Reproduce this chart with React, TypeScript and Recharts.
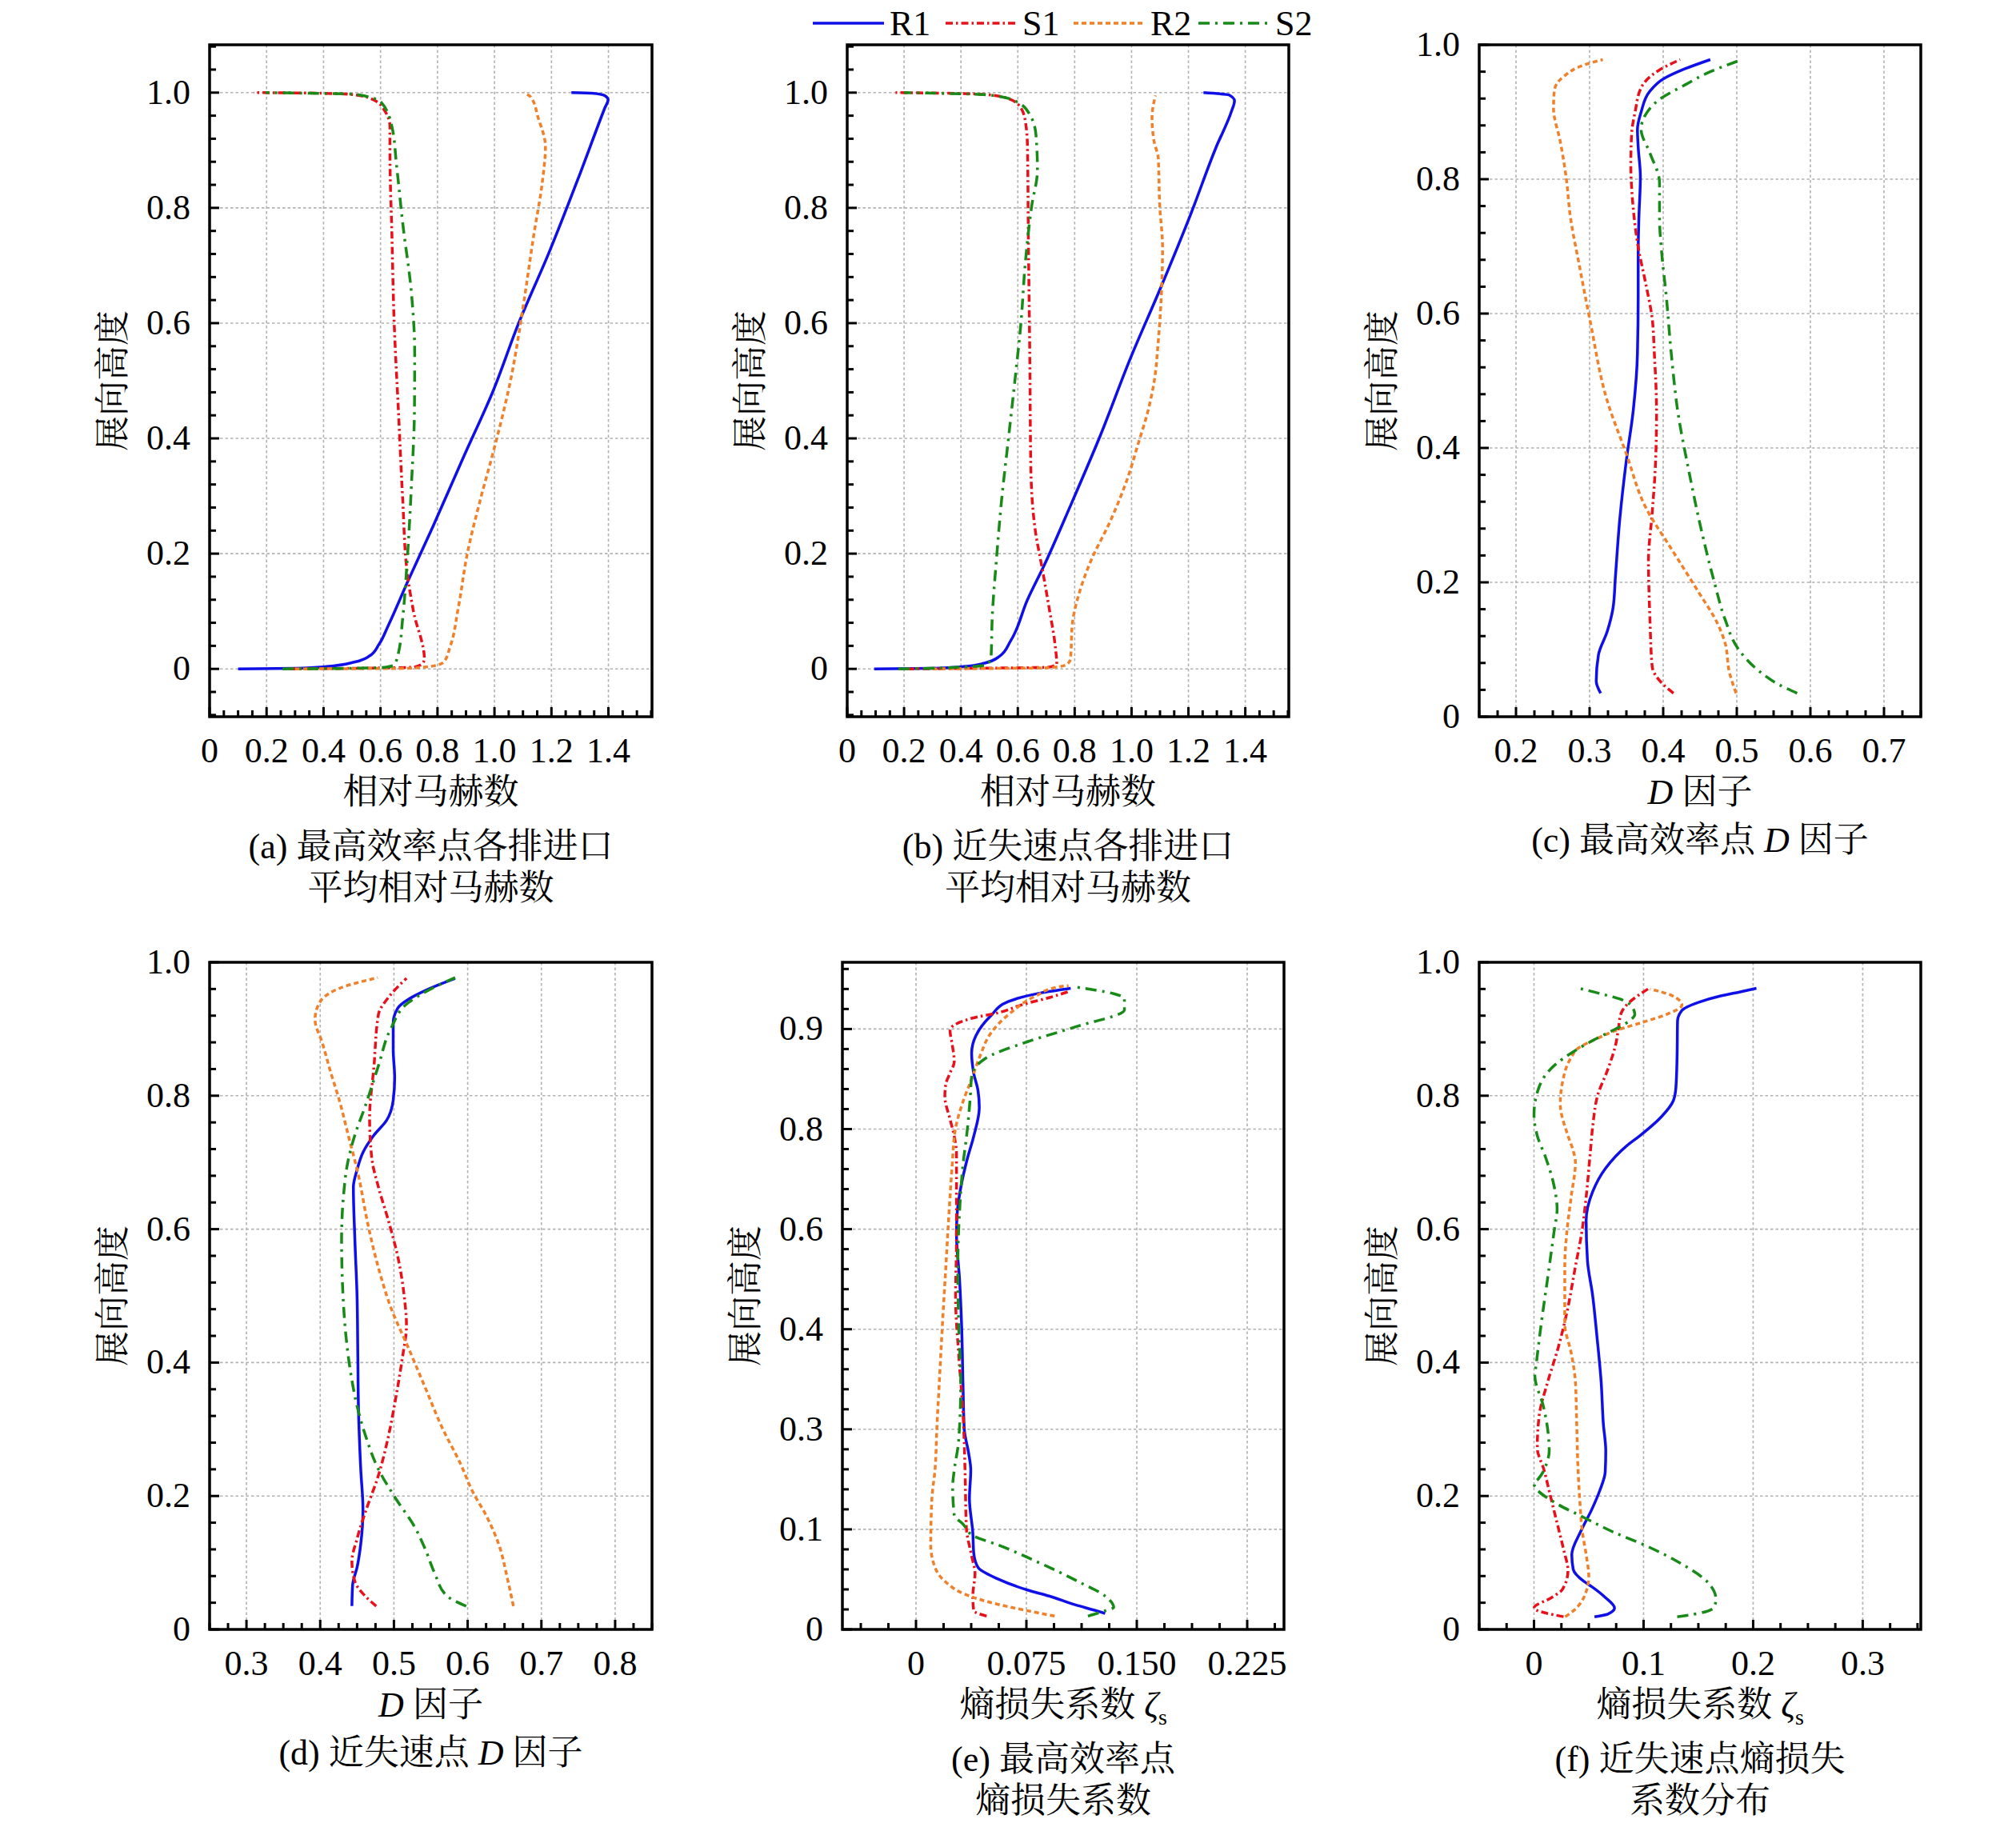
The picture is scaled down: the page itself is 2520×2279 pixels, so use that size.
import React from 'react';
import { LineChart, Line, XAxis, YAxis, CartesianGrid, ReferenceArea } from 'recharts';

const FONT = "'Liberation Serif', 'Times New Roman', 'Noto Serif CJK SC', 'Noto Sans CJK SC', serif";

// [x, y] pairs, y = spanwise height
const aR1 = [[0.10, 0], [0.30, 0.001], [0.41, 0.004], [0.51, 0.012], [0.56, 0.022], [0.595, 0.043], [0.626, 0.074], [0.694, 0.15], [0.784, 0.247], [0.889, 0.365], [0.995, 0.482], [1.085, 0.6], [1.191, 0.722], [1.297, 0.855], [1.387, 0.973], [1.399, 0.988], [1.387, 0.995], [1.342, 0.999], [1.27, 1.0]];
const aS1 = [[0.28, 0], [0.5, 0.001], [0.716, 0.003], [0.746, 0.009], [0.754, 0.017], [0.716, 0.099], [0.693, 0.17], [0.678, 0.293], [0.663, 0.446], [0.648, 0.6], [0.64, 0.753], [0.633, 0.896], [0.633, 0.941], [0.61, 0.972], [0.573, 0.988], [0.513, 0.996], [0.392, 0.999], [0.155, 1.0]];
const aR2 = [[0.30, 0], [0.694, 0.001], [0.784, 0.005], [0.822, 0.012], [0.844, 0.038], [0.874, 0.109], [0.905, 0.201], [0.95, 0.293], [0.995, 0.375], [1.055, 0.497], [1.101, 0.63], [1.138, 0.753], [1.168, 0.845], [1.179, 0.906], [1.153, 0.957], [1.128, 0.992], [1.104, 1.0]];
const aS2 = [[0.256, 0], [0.5, 0.001], [0.62, 0.003], [0.648, 0.007], [0.663, 0.028], [0.678, 0.089], [0.694, 0.191], [0.709, 0.324], [0.719, 0.446], [0.72, 0.548], [0.709, 0.65], [0.678, 0.773], [0.656, 0.875], [0.64, 0.941], [0.603, 0.983], [0.513, 0.997], [0.196, 1.0]];

const bR1 = [[0.095, 0], [0.30, 0.001], [0.408, 0.004], [0.483, 0.01], [0.536, 0.022], [0.574, 0.048], [0.634, 0.12], [0.694, 0.181], [0.785, 0.283], [0.891, 0.406], [0.996, 0.539], [1.102, 0.661], [1.208, 0.789], [1.298, 0.906], [1.351, 0.967], [1.362, 0.986], [1.343, 0.996], [1.253, 1.0]];
const bS1 = [[0.21, 0], [0.438, 0.001], [0.709, 0.003], [0.737, 0.009], [0.732, 0.038], [0.709, 0.109], [0.687, 0.171], [0.661, 0.242], [0.646, 0.345], [0.642, 0.549], [0.637, 0.753], [0.634, 0.906], [0.626, 0.952], [0.604, 0.978], [0.543, 0.993], [0.438, 0.998], [0.17, 1.0]];
const bR2 = [[0.30, 0], [0.44, 0.0005], [0.709, 0.002], [0.77, 0.007], [0.785, 0.017], [0.792, 0.079], [0.815, 0.13], [0.86, 0.191], [0.921, 0.252], [0.981, 0.324], [1.026, 0.395], [1.057, 0.446], [1.079, 0.497], [1.094, 0.569], [1.105, 0.651], [1.109, 0.732], [1.099, 0.804], [1.094, 0.886], [1.079, 0.916], [1.072, 0.957], [1.084, 0.995]];
const bS2 = [[0.18, 0], [0.287, 0.001], [0.491, 0.007], [0.506, 0.022], [0.51, 0.089], [0.525, 0.191], [0.543, 0.293], [0.566, 0.395], [0.589, 0.497], [0.611, 0.6], [0.626, 0.702], [0.649, 0.804], [0.669, 0.865], [0.664, 0.926], [0.642, 0.962], [0.589, 0.986], [0.498, 0.996], [0.2, 1.0]];

const cR1 = [[0.315, 0.035], [0.309, 0.053], [0.312, 0.092], [0.324, 0.127], [0.332, 0.163], [0.335, 0.207], [0.341, 0.294], [0.35, 0.382], [0.359, 0.453], [0.365, 0.54], [0.366, 0.628], [0.366, 0.69], [0.367, 0.743], [0.369, 0.804], [0.366, 0.848], [0.365, 0.874], [0.37, 0.9], [0.382, 0.931], [0.4, 0.949], [0.429, 0.964], [0.464, 0.978]];
const cS1 = [[0.414, 0.035], [0.4, 0.048], [0.385, 0.075], [0.382, 0.145], [0.38, 0.233], [0.385, 0.303], [0.389, 0.365], [0.391, 0.453], [0.388, 0.54], [0.385, 0.593], [0.376, 0.646], [0.366, 0.699], [0.359, 0.76], [0.356, 0.822], [0.357, 0.866], [0.362, 0.901], [0.37, 0.936], [0.394, 0.962], [0.423, 0.978]];
const cR2 = [[0.499, 0.035], [0.49, 0.066], [0.484, 0.11], [0.475, 0.136], [0.446, 0.189], [0.411, 0.25], [0.376, 0.312], [0.35, 0.391], [0.324, 0.47], [0.3, 0.593], [0.286, 0.672], [0.274, 0.743], [0.268, 0.804], [0.26, 0.857], [0.251, 0.905], [0.252, 0.931], [0.265, 0.953], [0.295, 0.971], [0.318, 0.978]];
const cS2 = [[0.582, 0.035], [0.557, 0.048], [0.528, 0.07], [0.502, 0.101], [0.484, 0.145], [0.47, 0.198], [0.452, 0.277], [0.435, 0.365], [0.42, 0.453], [0.411, 0.54], [0.404, 0.628], [0.398, 0.69], [0.395, 0.743], [0.395, 0.795], [0.382, 0.839], [0.37, 0.874], [0.376, 0.896], [0.394, 0.918], [0.429, 0.94], [0.464, 0.96], [0.507, 0.978]];

const dR1 = [[0.443, 0.035], [0.444, 0.067], [0.45, 0.093], [0.455, 0.128], [0.458, 0.18], [0.455, 0.24], [0.452, 0.326], [0.451, 0.413], [0.45, 0.499], [0.447, 0.585], [0.445, 0.663], [0.45, 0.689], [0.458, 0.715], [0.473, 0.741], [0.49, 0.763], [0.499, 0.793], [0.501, 0.827], [0.499, 0.87], [0.499, 0.909], [0.505, 0.931], [0.525, 0.948], [0.549, 0.961], [0.583, 0.976]];
const dS1 = [[0.476, 0.035], [0.461, 0.05], [0.447, 0.072], [0.443, 0.102], [0.45, 0.136], [0.461, 0.175], [0.479, 0.231], [0.493, 0.292], [0.502, 0.344], [0.511, 0.404], [0.517, 0.456], [0.514, 0.499], [0.505, 0.56], [0.493, 0.611], [0.479, 0.663], [0.47, 0.706], [0.467, 0.767], [0.473, 0.845], [0.479, 0.922], [0.493, 0.948], [0.517, 0.976]];
const dR2 = [[0.662, 0.035], [0.654, 0.076], [0.642, 0.128], [0.625, 0.171], [0.607, 0.206], [0.59, 0.249], [0.566, 0.301], [0.543, 0.361], [0.52, 0.421], [0.496, 0.482], [0.479, 0.542], [0.464, 0.611], [0.452, 0.68], [0.438, 0.741], [0.426, 0.793], [0.414, 0.836], [0.403, 0.879], [0.393, 0.914], [0.397, 0.935], [0.426, 0.961], [0.478, 0.977]];
const dS2 = [[0.598, 0.035], [0.572, 0.05], [0.555, 0.085], [0.543, 0.119], [0.528, 0.154], [0.502, 0.197], [0.479, 0.24], [0.461, 0.292], [0.45, 0.335], [0.441, 0.387], [0.435, 0.439], [0.431, 0.499], [0.429, 0.585], [0.432, 0.655], [0.437, 0.698], [0.447, 0.741], [0.461, 0.784], [0.479, 0.845], [0.496, 0.901], [0.52, 0.94], [0.552, 0.961], [0.583, 0.977]];

const eR1 = [[0.1285, 0.024], [0.1226, 0.028], [0.108, 0.037], [0.0904, 0.05], [0.0758, 0.059], [0.0553, 0.076], [0.0421, 0.093], [0.0392, 0.115], [0.0386, 0.145], [0.0363, 0.196], [0.0372, 0.239], [0.0357, 0.265], [0.0328, 0.3], [0.0319, 0.369], [0.031, 0.455], [0.0296, 0.524], [0.0275, 0.593], [0.0281, 0.627], [0.0304, 0.662], [0.0348, 0.705], [0.0392, 0.739], [0.043, 0.782], [0.0421, 0.808], [0.0392, 0.834], [0.0378, 0.864], [0.0407, 0.89], [0.0509, 0.92], [0.0626, 0.941], [0.0846, 0.954], [0.1051, 0.961]];
const eS1 = [[0.048, 0.02], [0.0392, 0.028], [0.0386, 0.05], [0.0401, 0.084], [0.0378, 0.11], [0.0342, 0.153], [0.0334, 0.231], [0.0319, 0.326], [0.029, 0.412], [0.0269, 0.498], [0.0275, 0.584], [0.0275, 0.67], [0.0275, 0.713], [0.026, 0.739], [0.0231, 0.765], [0.0196, 0.799], [0.0202, 0.817], [0.0231, 0.834], [0.026, 0.851], [0.0246, 0.877], [0.0231, 0.898], [0.0378, 0.916], [0.0553, 0.924], [0.0729, 0.937], [0.0904, 0.947], [0.1036, 0.956]];
const eR2 = [[0.0942, 0.02], [0.0758, 0.028], [0.0495, 0.041], [0.0319, 0.054], [0.0202, 0.071], [0.0129, 0.093], [0.01, 0.127], [0.0108, 0.196], [0.0129, 0.239], [0.0143, 0.308], [0.0158, 0.369], [0.0179, 0.455], [0.0202, 0.541], [0.0225, 0.627], [0.0246, 0.696], [0.0266, 0.748], [0.0319, 0.791], [0.0378, 0.825], [0.0436, 0.86], [0.0509, 0.894], [0.0641, 0.924], [0.0817, 0.95], [0.0963, 0.963], [0.1036, 0.965]];
const eS2 = [[0.1168, 0.02], [0.1285, 0.028], [0.1343, 0.033], [0.1285, 0.05], [0.1109, 0.071], [0.0817, 0.102], [0.0553, 0.127], [0.0392, 0.14], [0.0319, 0.158], [0.026, 0.171], [0.0249, 0.214], [0.026, 0.239], [0.029, 0.283], [0.0304, 0.369], [0.029, 0.455], [0.0284, 0.541], [0.0296, 0.627], [0.0319, 0.696], [0.0348, 0.748], [0.0369, 0.799], [0.0378, 0.829], [0.0465, 0.855], [0.0758, 0.881], [0.108, 0.903], [0.1416, 0.929], [0.1416, 0.946], [0.1343, 0.953], [0.108, 0.963]];

const fR1 = [[0.0552, 0.019], [0.0674, 0.023], [0.0735, 0.032], [0.065, 0.048], [0.0528, 0.064], [0.0455, 0.072], [0.0358, 0.09], [0.0345, 0.112], [0.043, 0.148], [0.0528, 0.18], [0.06, 0.208], [0.065, 0.236], [0.0655, 0.268], [0.0633, 0.308], [0.0613, 0.371], [0.0574, 0.44], [0.0535, 0.501], [0.0488, 0.553], [0.0476, 0.613], [0.0535, 0.656], [0.0652, 0.691], [0.0847, 0.725], [0.0966, 0.74], [0.116, 0.768], [0.127, 0.792], [0.1295, 0.812], [0.1306, 0.86], [0.131, 0.912], [0.135, 0.928], [0.15, 0.94], [0.169, 0.949], [0.189, 0.956], [0.203, 0.961]];
const fS1 = [[0.027, 0.019], [0.0, 0.032], [0.0163, 0.048], [0.026, 0.06], [0.031, 0.088], [0.027, 0.12], [0.021, 0.16], [0.015, 0.2], [0.009, 0.24], [0.003, 0.272], [0.0047, 0.32], [0.0125, 0.371], [0.0222, 0.423], [0.03, 0.475], [0.0378, 0.544], [0.0437, 0.596], [0.0476, 0.648], [0.0515, 0.717], [0.054, 0.76], [0.058, 0.8], [0.0675, 0.84], [0.075, 0.88], [0.077, 0.9], [0.0796, 0.924], [0.087, 0.94], [0.0966, 0.952], [0.105, 0.961]];
const fR2 = [[0.0285, 0.019], [0.036, 0.028], [0.0455, 0.048], [0.05, 0.08], [0.048, 0.108], [0.044, 0.148], [0.042, 0.188], [0.04, 0.248], [0.039, 0.308], [0.0378, 0.371], [0.0339, 0.415], [0.0281, 0.458], [0.0281, 0.544], [0.03, 0.596], [0.0339, 0.648], [0.0378, 0.7], [0.0359, 0.717], [0.031, 0.74], [0.024, 0.788], [0.026, 0.82], [0.0335, 0.856], [0.041, 0.872], [0.058, 0.886], [0.075, 0.898], [0.099, 0.91], [0.121, 0.922], [0.135, 0.936], [0.126, 0.95], [0.106, 0.96]];
const fS2 = [[0.1307, 0.019], [0.15, 0.024], [0.1647, 0.034], [0.166, 0.046], [0.16, 0.068], [0.1307, 0.102], [0.1015, 0.126], [0.0723, 0.146], [0.043, 0.17], [0.0212, 0.188], [0.0, 0.219], [0.0041, 0.226], [0.0114, 0.248], [0.0139, 0.268], [0.0125, 0.3], [0.0085, 0.335], [0.0008, 0.38], [0.002, 0.397], [0.0066, 0.458], [0.0125, 0.527], [0.0183, 0.596], [0.0211, 0.63], [0.0183, 0.665], [0.0105, 0.708], [0.003, 0.74], [0.0, 0.772], [0.0044, 0.812], [0.019, 0.846], [0.036, 0.866], [0.055, 0.884], [0.072, 0.898], [0.087, 0.912], [0.092, 0.922], [0.088, 0.936], [0.08, 0.944], [0.063, 0.952], [0.041, 0.961]];

// tick values and labels
const machXMajor = [0, 0.2, 0.4, 0.6, 0.8, 1.0, 1.2, 1.4];
const machXLabels = ['0', '0.2', '0.4', '0.6', '0.8', '1.0', '1.2', '1.4'];
const machYMajor = [0, 0.2, 0.4, 0.6, 0.8, 1.0];
const spanYMajor = [0, 0.2, 0.4, 0.6, 0.8, 1.0];
const spanYLabels = ['0', '0.2', '0.4', '0.6', '0.8', '1.0'];
const dcXMajor = [0.2, 0.3, 0.4, 0.5, 0.6, 0.7];
const dcXLabels = ['0.2', '0.3', '0.4', '0.5', '0.6', '0.7'];
const ddXMajor = [0.3, 0.4, 0.5, 0.6, 0.7, 0.8];
const ddXLabels = ['0.3', '0.4', '0.5', '0.6', '0.7', '0.8'];
const eXMajor = [0, 0.075, 0.15, 0.225];
const eXLabels = ['0', '0.075', '0.150', '0.225'];
const eYMajor = [0, 0.15, 0.3, 0.45, 0.6, 0.75, 0.9];
const eYLabels = ['0', '0.1', '0.3', '0.4', '0.6', '0.8', '0.9'];
const fXMajor = [0, 0.1, 0.2, 0.3];
const fXLabels = ['0', '0.1', '0.2', '0.3'];

const steps = (a: number, b: number, d: number) => {
  const out: number[] = [];
  const n = Math.round((b - a) / d);
  for (let i = 0; i <= n; i++) out.push(+(a + i * d).toFixed(6));
  return out;
};

const SERIES = [
  { key: 'R1', color: '#0f0fe8', dash: undefined as string | undefined },
  { key: 'S1', color: '#e8101a', dash: '9 4 2.5 4' },
  { key: 'R2', color: '#f0802a', dash: '6 4' },
  { key: 'S2', color: '#188a18', dash: '14 7 3 7' },
];

const toPts = (rows: number[][]) => rows.map(([x, y]) => ({ x, y }));

const ROW1 = { top: 56, h: 840 };
const ROW2 = { top: 1203, h: 834 };

const PANELS: any[] = [
  {
    box: { left: 262, w: 553, ...ROW1 }, xDomain: [0, 1.553], yDomain: [-0.083, 1.083],
    xTicks: steps(0, 1.55, 0.05), xMajor: machXMajor, xLabels: machXLabels,
    yTicks: steps(-0.08, 1.08, 0.04), yMajor: machYMajor, yLabels: spanYLabels,
    xTitle: '相对马赫数', caption: ['(a) 最高效率点各排进口', '平均相对马赫数'],
    data: { R1: aR1, S1: aS1, R2: aR2, S2: aS2 },
  },
  {
    box: { left: 1059, w: 552, ...ROW1 }, xDomain: [0, 1.553], yDomain: [-0.083, 1.083],
    xTicks: steps(0, 1.55, 0.05), xMajor: machXMajor, xLabels: machXLabels,
    yTicks: steps(-0.08, 1.08, 0.04), yMajor: machYMajor, yLabels: spanYLabels,
    xTitle: '相对马赫数', caption: ['(b) 近失速点各排进口', '平均相对马赫数'],
    data: { R1: bR1, S1: bS1, R2: bR2, S2: bS2 },
  },
  {
    box: { left: 1849, w: 552, ...ROW1 }, xDomain: [0.15, 0.75], yDomain: [0, 1],
    xTicks: steps(0.15, 0.75, 0.025), xMajor: dcXMajor, xLabels: dcXLabels,
    yTicks: steps(0, 1, 0.04), yMajor: spanYMajor, yLabels: spanYLabels,
    xTitle: <><i>D</i> 因子</>, caption: [<>(c) 最高效率点 <i>D</i> 因子</>],
    data: { R1: cR1, S1: cS1, R2: cR2, S2: cS2 },
  },
  {
    box: { left: 262, w: 553, ...ROW2 }, xDomain: [0.25, 0.85], yDomain: [0, 1],
    xTicks: steps(0.25, 0.85, 0.025), xMajor: ddXMajor, xLabels: ddXLabels,
    yTicks: steps(0, 1, 0.04), yMajor: spanYMajor, yLabels: spanYLabels,
    xTitle: <><i>D</i> 因子</>, caption: [<>(d) 近失速点 <i>D</i> 因子</>],
    data: { R1: dR1, S1: dS1, R2: dR2, S2: dS2 },
  },
  {
    box: { left: 1053, w: 552, ...ROW2 }, xDomain: [-0.05, 0.25], yDomain: [0, 1],
    xTicks: steps(-0.0375, 0.24375, 0.01875), xMajor: eXMajor, xLabels: eXLabels,
    yTicks: steps(0, 0.99, 0.03), yMajor: eYMajor, yLabels: eYLabels,
    xTitle: <>熵损失系数 <i>ζ</i><sub style={{ fontSize: 28 }}>s</sub></>, caption: ['(e) 最高效率点', '熵损失系数'],
    data: { R1: eR1, S1: eS1, R2: eR2, S2: eS2 },
  },
  {
    box: { left: 1849, w: 552, ...ROW2 }, xDomain: [-0.05, 0.353], yDomain: [0, 1],
    xTicks: steps(-0.05, 0.35, 0.025), xMajor: fXMajor, xLabels: fXLabels,
    yTicks: steps(0, 1, 0.04), yMajor: spanYMajor, yLabels: spanYLabels,
    xTitle: <>熵损失系数 <i>ζ</i><sub style={{ fontSize: 28 }}>s</sub></>, caption: ['(f) 近失速点熵损失', '系数分布'],
    data: { R1: fR1, S1: fS1, R2: fR2, S2: fS2 },
  },
];

const findMajor = (major: number[], v: number) => major.findIndex((m) => Math.abs(m - v) < 1e-6);

const xTick = (major: number[], labels: string[]) => (props: any) => {
  const { x, y, payload } = props;
  const i = findMajor(major, payload.value);
  return (
    <g>
      <line x1={x} x2={x} y1={y} y2={y - (i >= 0 ? 12 : 8)} stroke="#000" strokeWidth={3} />
      {i >= 0 && (
        <text x={x} y={y + 57} textAnchor="middle" fontSize={44} fontFamily={FONT} fill="#000">{labels[i]}</text>
      )}
    </g>
  );
};

const yTick = (major: number[], labels: string[]) => (props: any) => {
  const { x, y, payload } = props;
  const i = findMajor(major, payload.value);
  return (
    <g>
      <line x1={x} x2={x + (i >= 0 ? 12 : 8)} y1={y} y2={y} stroke="#000" strokeWidth={3} />
      {i >= 0 && (
        <text x={x - 24} y={y + 14} textAnchor="end" fontSize={44} fontFamily={FONT} fill="#000">{labels[i]}</text>
      )}
    </g>
  );
};

const inside = (vals: number[], dom: number[]) => vals.filter((v) => v > dom[0] + 1e-6 && v < dom[1] - 1e-6);

const txt = (cx: number, cy: number, content: any, extra: any = {}) => (
  <div
    style={{
      position: 'absolute', left: cx - 400, top: cy - 22, width: 800, height: 44, lineHeight: '44px',
      textAlign: 'center', fontSize: 44, fontFamily: FONT, color: '#000', whiteSpace: 'nowrap', ...extra,
    }}
  >
    {content}
  </div>
);

const PAD_TOP = 45;

function Panel({ p }: { p: any }) {
  const { box } = p;
  const W = box.w + 170;
  const H = box.h + PAD_TOP + 70;
  const cx = box.left + box.w / 2;
  const bottom = box.top + box.h;
  return (
    <>
      <div style={{ position: 'absolute', left: box.left - 140, top: box.top - PAD_TOP, width: W, height: H }}>
        <LineChart width={W} height={H} margin={{ top: PAD_TOP, right: 30, left: 80, bottom: 40 }}>
          <CartesianGrid
            stroke="#b2b2b2"
            strokeWidth={1.6}
            strokeDasharray="3.5 3"
            verticalValues={inside(p.xMajor, p.xDomain)}
            horizontalValues={inside(p.yMajor, p.yDomain)}
          />
          <XAxis
            type="number" dataKey="x" domain={p.xDomain} allowDataOverflow ticks={p.xTicks} interval={0}
            height={30} tickSize={0} tickMargin={0} axisLine={false} tickLine={false}
            tick={xTick(p.xMajor, p.xLabels)}
          />
          <YAxis
            type="number" domain={p.yDomain} allowDataOverflow ticks={p.yTicks} interval={0}
            width={60} tickSize={0} tickMargin={0} axisLine={false} tickLine={false}
            tick={yTick(p.yMajor, p.yLabels)}
          />
          {SERIES.map((s) => (
            <Line
              key={s.key}
              data={toPts(p.data[s.key])}
              dataKey="y"
              type="monotoneY"
              stroke={s.color}
              strokeWidth={3.5}
              strokeDasharray={s.dash}
              dot={false}
              activeDot={false}
              isAnimationActive={false}
            />
          ))}
          <ReferenceArea
            x1={p.xDomain[0]} x2={p.xDomain[1]} y1={p.yDomain[0]} y2={p.yDomain[1]}
            fill="none" fillOpacity={0} stroke="#000" strokeWidth={3.5} ifOverflow="visible"
          />
        </LineChart>
      </div>
      {txt(box.left - 120, box.top + box.h / 2, '展向高度', { transform: 'rotate(-90deg)' })}
      {txt(cx, bottom + 95, p.xTitle)}
      {p.caption.length === 2
        ? <>{txt(cx, bottom + 163, p.caption[0])}{txt(cx, bottom + 215, p.caption[1])}</>
        : txt(cx, bottom + 155, p.caption[0])}
    </>
  );
}

const LEGEND_X = [1016, 1182, 1342, 1498];

function Legend() {
  return (
    <svg style={{ position: 'absolute', left: 0, top: 0 }} width={2520} height={56}>
      {SERIES.map((s, i) => (
        <g key={s.key}>
          <line x1={LEGEND_X[i]} x2={LEGEND_X[i] + 89} y1={29} y2={29} stroke={s.color} strokeWidth={3.5} strokeDasharray={s.dash} />
          <text x={LEGEND_X[i] + 96} y={44} fontSize={44} fontFamily={FONT} fill="#000">{s.key}</text>
        </g>
      ))}
    </svg>
  );
}

export default function App() {
  return (
    <div style={{ position: 'absolute', left: 0, top: 0, width: 2520, height: 2279, background: '#fff', overflow: 'hidden' }}>
      <Legend />
      {PANELS.map((p, i) => <Panel key={i} p={p} />)}
    </div>
  );
}
